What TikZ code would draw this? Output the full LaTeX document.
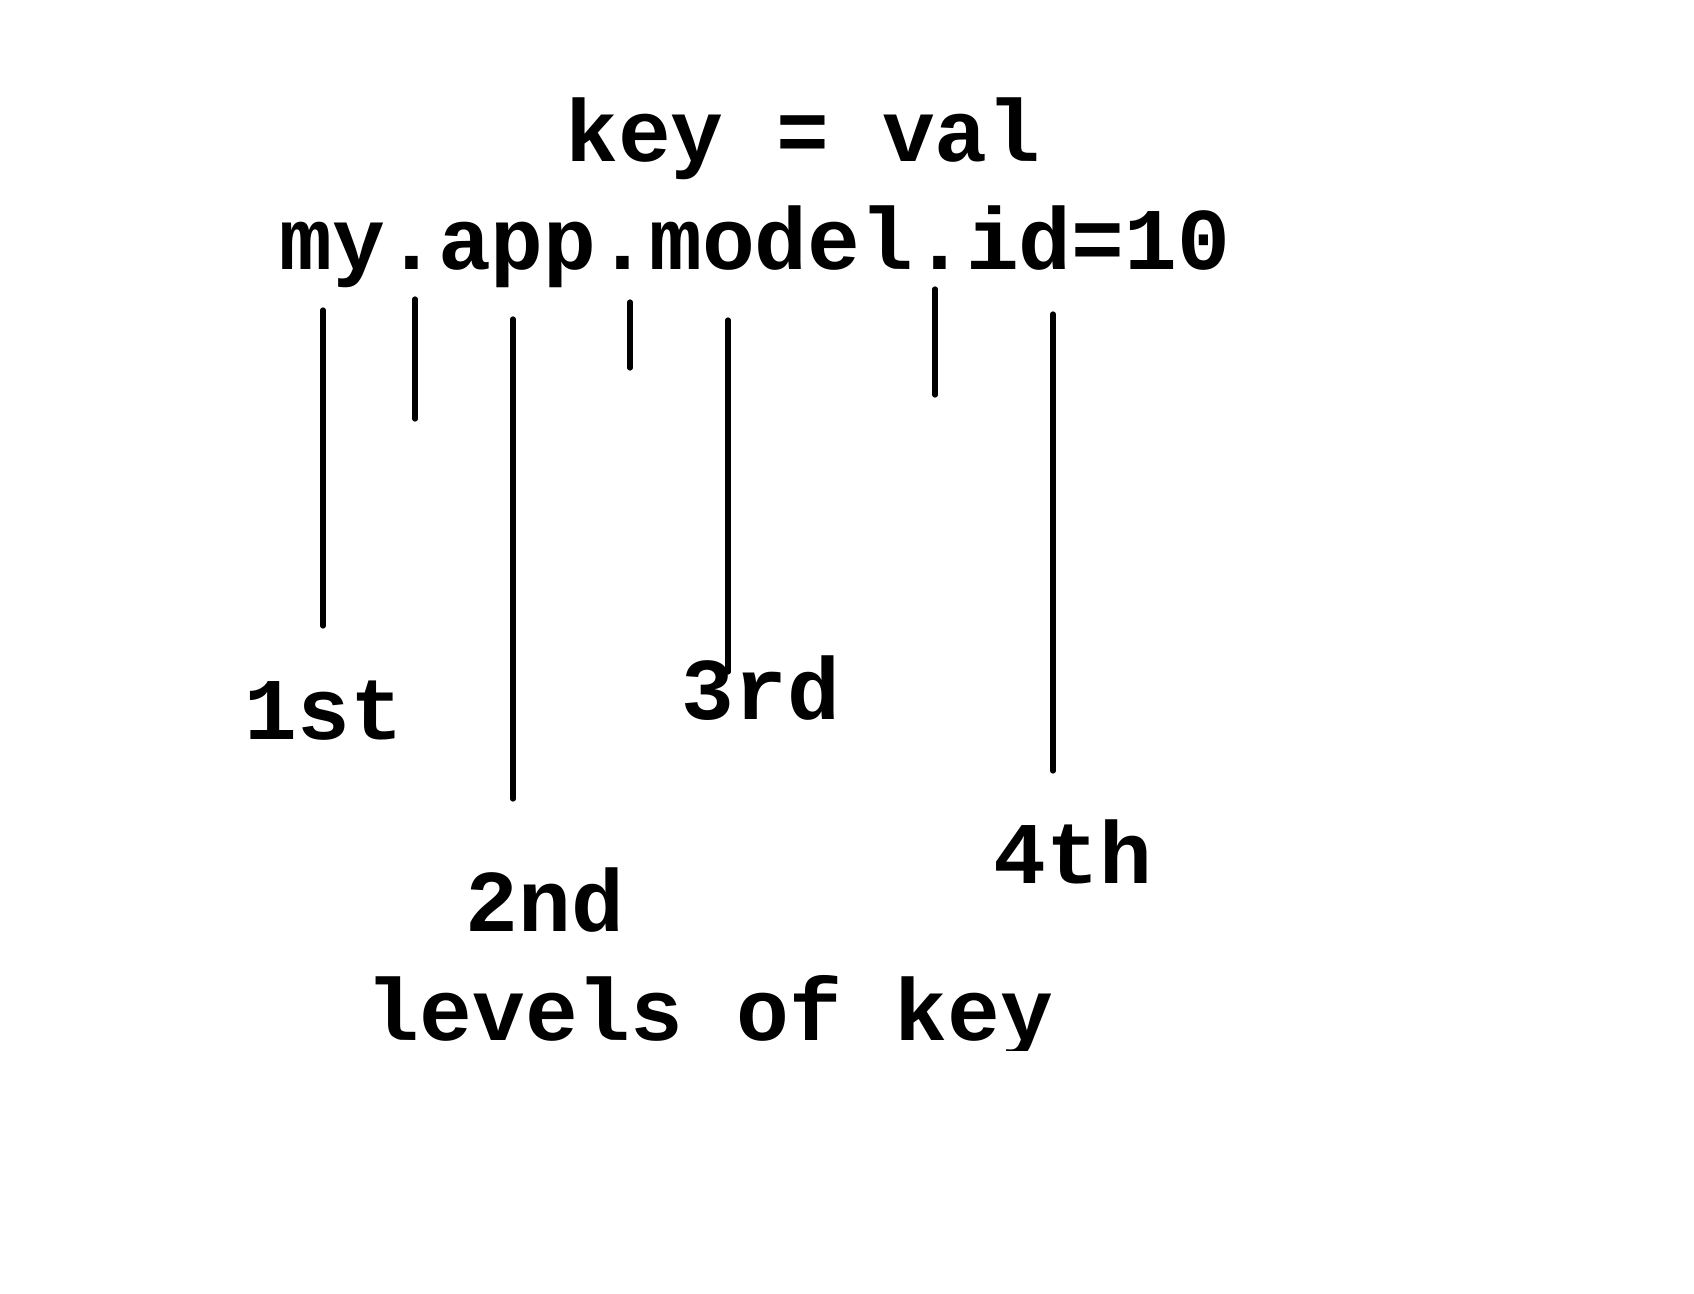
\documentclass[tikz,border=0pt]{standalone}
\usepackage{fontspec}
\newfontfamily\monob{Liberation Mono}
\begin{document}
\begin{tikzpicture}[x=0.5pt,y=-0.5pt,
  lbl/.style={inner sep=0pt,anchor=base,font=\monob\bfseries\fontsize{44}{52}\selectfont},
  tick/.style={line width=2.6pt,line cap=round}]
\useasboundingbox[fill=white] (0,0) rectangle (1694,1294);
\node[lbl] (kv) at (803,162) {key = val};
\node[lbl] (ex) at (755,270) {my.app.model.id=10};
\node[lbl] (l1) at (324,740) {1st};
\node[lbl] (l3) at (761,719) {3rd};
\node[lbl] (l2) at (545,931) {2nd};
\node[lbl] (l4) at (1073,883) {4th};
\begin{scope}
\clip (0,0) rectangle (1694,1050);
\node[lbl] (lv) at (710,1040) {levels of key};
\end{scope}
\coordinate (a1) at (323,310); \coordinate (b1) at (323,626);
\coordinate (a2) at (415,299); \coordinate (b2) at (415,419);
\coordinate (a3) at (513,319); \coordinate (b3) at (513,799);
\coordinate (a4) at (630,302); \coordinate (b4) at (630,368);
\coordinate (a5) at (728,320); \coordinate (b5) at (728,672);
\coordinate (a6) at (935,289); \coordinate (b6) at (935,395);
\coordinate (a7) at (1053,314); \coordinate (b7) at (1053,771);
\foreach \i in {1,...,7} \draw[tick] (a\i) -- (b\i);
\end{tikzpicture}
\end{document}
